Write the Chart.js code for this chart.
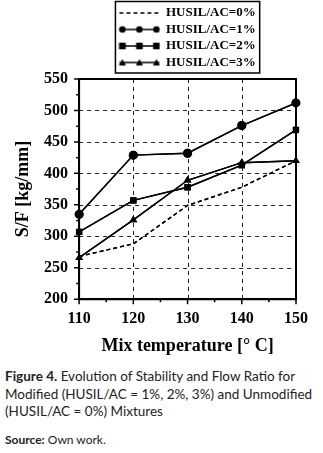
<!DOCTYPE html>
<html>
<head>
<meta charset="utf-8">
<script src="https://cdn.jsdelivr.net/npm/chart.js@4/dist/chart.umd.min.js"></script>
<style>
  body { margin: 0; background: #fff; width: 323px; }
  .chartBox { position: relative; width: 323px; height: 360px; }
  .chartBox canvas { display: block; }
  .caption { font-family: Lato, sans-serif; font-size: 13.5px; line-height: 17.6px; color: #222; margin: 8px 0 0 5px; width: 316px; }
  .source { font-family: Lato, sans-serif; font-size: 12px; color: #222; margin: 11px 0 0 5px; }
</style>
</head>
<body>
<div class="chartBox"><canvas id="sfChart" width="323" height="360"></canvas></div>
<div class="caption"><b>Figure 4.</b> Evolution of Stability and Flow Ratio for Modified (HUSIL/AC = 1%, 2%, 3%) and Unmodified (HUSIL/AC = 0%) Mixtures</div>
<div class="source"><b>Source:</b> Own work.</div>
<script>
const temps = [110, 120, 130, 140, 150];
const seriesNames = ['HUSIL/AC=0%', 'HUSIL/AC=1%', 'HUSIL/AC=2%', 'HUSIL/AC=3%'];
const sf0 = [268, 288, 349, 378, 420];
const sf1 = [335, 429, 432, 476, 512];
const sf2 = [307, 357, 378, 413, 469];
const sf3 = [266, 326, 389, 417, 420];
const xMajor = 10;
const yMajor = 50;

const serif = '"Liberation Serif", "Times New Roman", serif';

function toPoints(vals) {
    return vals.map(function(v, i) { return { x: temps[i], y: v }; });
}

// little line+marker sample for the legend
function makeSample(marker) {
    const c = document.createElement('canvas');
    c.width = 42;
    c.height = 10;
    const g = c.getContext('2d');
    g.strokeStyle = '#000';
    g.fillStyle = '#000';
    g.lineWidth = 1.3;
    if (!marker) g.setLineDash([4, 3]);
    g.beginPath();
    g.moveTo(1, 5);
    g.lineTo(41, 5);
    g.stroke();
    g.setLineDash([]);
    [4, 21, 38].forEach(function(x) {
        if (marker === 'circle') {
            g.beginPath();
            g.arc(x, 5, 3.3, 0, Math.PI * 2);
            g.fill();
        } else if (marker === 'rect') {
            g.fillRect(x - 3.3, 1.7, 6.6, 6.6);
        } else if (marker === 'triangle') {
            g.beginPath();
            g.moveTo(x, 1.5);
            g.lineTo(x + 3.5, 8);
            g.lineTo(x - 3.5, 8);
            g.closePath();
            g.fill();
        }
    });
    return c;
}

const samples = [makeSample(null), makeSample('circle'), makeSample('rect'), makeSample('triangle')];

// grid, tick marks, frame and legend box, all done at the end of the draw
const frame = {
    id: 'frame',
    afterDraw(chart) {
        const ctx = chart.ctx;
        const a = chart.chartArea;
        const x = chart.scales.x;
        const y = chart.scales.y;
        ctx.save();
        ctx.globalAlpha = 1;
        ctx.globalCompositeOperation = 'source-over';

        // dashed grid on the labelled values
        ctx.strokeStyle = '#222';
        ctx.lineWidth = 1;
        ctx.setLineDash([4, 4]);
        ctx.beginPath();
        x.ticks.forEach(function(t) {
            if (t.value % xMajor === 0 && t.value > x.min && t.value < x.max) {
                const px = Math.round(x.getPixelForValue(t.value)) + 0.5;
                ctx.moveTo(px, a.top);
                ctx.lineTo(px, a.bottom);
            }
        });
        y.ticks.forEach(function(t) {
            if (t.value % yMajor === 0 && t.value > y.min && t.value < y.max) {
                const py = Math.round(y.getPixelForValue(t.value)) + 0.5;
                ctx.moveTo(a.left, py);
                ctx.lineTo(a.right, py);
            }
        });
        ctx.stroke();

        // outward tick marks, minor ones shorter
        ctx.setLineDash([]);
        ctx.strokeStyle = '#000';
        ctx.lineWidth = 1.5;
        ctx.beginPath();
        x.ticks.forEach(function(t) {
            const px = x.getPixelForValue(t.value);
            const len = t.value % xMajor === 0 ? 5 : 3;
            ctx.moveTo(px, a.bottom);
            ctx.lineTo(px, a.bottom + len);
        });
        y.ticks.forEach(function(t) {
            const py = y.getPixelForValue(t.value);
            const len = t.value % yMajor === 0 ? 5 : 3;
            ctx.moveTo(a.left, py);
            ctx.lineTo(a.left - len, py);
        });
        ctx.stroke();
        ctx.restore();

        // series back on top of the grid
        chart.getSortedVisibleDatasetMetas().forEach(function(meta) {
            meta.controller.draw();
        });

        ctx.save();
        ctx.setLineDash([]);
        ctx.strokeStyle = '#000';
        ctx.lineWidth = 2;
        ctx.beginPath();
        ctx.moveTo(a.left, a.bottom);
        ctx.lineTo(a.left, a.top);
        ctx.lineTo(a.right, a.top);
        ctx.lineTo(a.right, a.bottom);
        ctx.lineTo(a.left, a.bottom);
        ctx.stroke();

        // box round the legend
        const boxes = chart.legend.legendHitBoxes;
        let l = Infinity, r = -Infinity, t = Infinity, b = -Infinity;
        boxes.forEach(function(h) {
            l = Math.min(l, h.left);
            r = Math.max(r, h.left + h.width);
            t = Math.min(t, h.top);
            b = Math.max(b, h.top + h.height);
        });
        ctx.lineWidth = 1.5;
        ctx.strokeRect(l - 4, t - 5, r - l + 8, b - t + 9);
        ctx.restore();
    }
};

const lineSet = function(i, vals, style, dashed) {
    return {
        label: seriesNames[i],
        data: toPoints(vals),
        borderColor: '#000',
        backgroundColor: '#000',
        borderWidth: 1.4,
        borderDash: dashed ? [4, 3] : [],
        pointStyle: style,
        pointRadius: style ? 4.5 : 0,
        pointBorderWidth: 0,
        fill: false,
        tension: 0
    };
};

const hiddenGrid = {
    color: 'rgba(0,0,0,0)',
    tickColor: 'rgba(0,0,0,0)',
    tickLength: 5,
    lineWidth: 1
};

const sfChart = new Chart(document.getElementById('sfChart'), {
    type: 'line',
    data: {
        datasets: [
            lineSet(0, sf0, false, true),
            lineSet(1, sf1, 'circle', false),
            lineSet(2, sf2, 'rect', false),
            lineSet(3, sf3, 'triangle', false)
        ]
    },
    plugins: [frame],
    options: {
        responsive: false,
        animation: false,
        layout: { padding: { top: 3, right: 27, left: 12.5, bottom: 3 } },
        plugins: {
            tooltip: { enabled: false },
            legend: {
                position: 'top',
                fullSize: false,
                labels: {
                    usePointStyle: true,
                    pointStyleWidth: 40,
                    padding: 3.5,
                    color: '#000',
                    font: { family: serif, size: 13, weight: 'bold' },
                    generateLabels: function(chart) {
                        return chart.data.datasets.map(function(ds, i) {
                            return { text: ds.label, pointStyle: samples[i], fontColor: '#000', datasetIndex: i, hidden: false };
                        });
                    }
                }
            }
        },
        scales: {
            x: {
                type: 'linear',
                min: 110,
                max: 150,
                ticks: {
                    stepSize: 5,
                    autoSkip: false,
                    maxRotation: 0,
                    color: '#000',
                    padding: 5,
                    font: { family: serif, size: 16, weight: 'bold' },
                    callback: function(v) { return v % xMajor === 0 ? v : ''; }
                },
                grid: hiddenGrid,
                border: { color: '#000', width: 2 },
                title: {
                    display: true,
                    text: 'Mix temperature [° C]',
                    color: '#000',
                    font: { family: serif, size: 18, weight: 'bold' },
                    padding: { top: 2, bottom: 0 }
                }
            },
            y: {
                min: 200,
                max: 550,
                ticks: {
                    stepSize: 25,
                    autoSkip: false,
                    color: '#000',
                    padding: 6,
                    font: { family: serif, size: 16, weight: 'bold' },
                    callback: function(v) { return v % yMajor === 0 ? v : ''; }
                },
                grid: hiddenGrid,
                border: { color: '#000', width: 2 },
                title: {
                    display: true,
                    text: 'S/F [kg/mm]',
                    color: '#000',
                    font: { family: serif, size: 18, weight: 'bold' },
                    padding: { top: 0, bottom: 4 }
                }
            }
        }
    }
});

// redraw once the fonts are surely there
document.fonts.ready.then(function() { sfChart.update('none'); });
</script>
</body>
</html>
